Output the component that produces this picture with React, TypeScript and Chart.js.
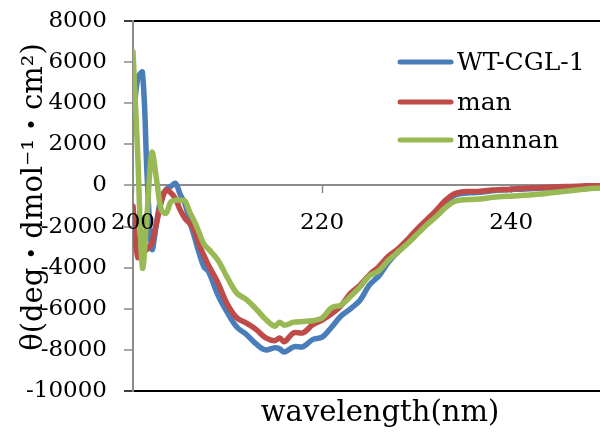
import React, { useEffect, useRef } from "react";
import { Chart, registerables } from "chart.js";

Chart.register(...registerables);

const wavelengths = [
  200, 200.5, 201, 201.5, 202, 202.5, 203, 203.5, 204, 204.5, 205, 205.5, 206, 206.5, 207, 207.5, 208,
  209, 210, 211, 212, 213, 214, 215, 215.5,
  216, 217, 218, 219, 220, 221, 222, 223, 224, 225, 226, 227, 228, 229, 230,
  231, 232, 233, 234, 235, 236, 237, 238, 239, 240, 241, 242, 243, 244, 245,
  246, 247, 248, 249, 250,
];

const wtCgl1 = [
  3000, 5200, 5500, 400, -3100, -1800, -560, -200, -50, 100, -450, -900, -1750, -2500, -3300, -3950, -4200,
  -5350, -6200, -6900, -7250, -7700, -8000, -7900, -7950,
  -8100, -7850, -7840, -7500, -7380, -6900, -6350, -6000, -5600, -4850, -4400, -3750, -3250, -2800, -2300,
  -1800, -1300, -850, -480, -380, -350, -320, -260, -220, -200, -180, -160, -140, -120, -100,
  -90, -70, -50, -40, -30,
];

const man = [
  -1000, -3500, -3300, -3100, -2800, -1800, -800, -220, -350, -650, -1200, -1600, -1850, -2200, -2900, -3400, -3900,
  -4750, -5800, -6450, -6700, -7000, -7400, -7550, -7420,
  -7600, -7170, -7170, -6780, -6550, -6250, -5850, -5250, -4850, -4350, -3950, -3450, -3100, -2650, -2150,
  -1700, -1250, -750, -400, -300, -300, -270, -220, -200, -180, -150, -130, -110, -90, -60,
  -50, -40, -20, -15, -10,
];

const mannan = [
  6500, 1500, -4000, -1300, 1600, 260, -1200, -1350, -800, -720, -720, -750, -1300, -1750, -2300, -2850, -3100,
  -3650, -4500, -5250, -5550, -6000, -6500, -6850, -6650,
  -6800, -6650, -6620, -6580, -6450, -5950, -5820, -5400, -4950, -4400, -4150, -3650, -3250, -2850, -2400,
  -1950, -1550, -1100, -780, -700, -680, -650, -580, -540, -520, -490, -460, -420, -370, -320,
  -270, -220, -170, -140, -120,
];

const seriesNames = ["WT-CGL-1", "man", "mannan"];
const seriesColors = ["#4A7EBB", "#BE4B48", "#98B954"];
const xTickValues = [200, 220, 240];
const yTitle = "θ(deg・dmol⁻¹・cm²)";
const xTitle = "wavelength(nm)";

const FONT = "'DejaVu Serif', 'Liberation Serif', 'Noto Sans CJK JP', serif";

const overlayPlugin = {
  id: "overlay",
  afterDraw(chart: any) {
    const ctx = chart.ctx;
    const area = chart.chartArea;
    const xs = chart.scales.x;
    const ys = chart.scales.y;

    // x tick labels drawn above the data lines
    ctx.save();
    ctx.fillStyle = "#000";
    ctx.font = `23px ${FONT}`;
    ctx.textAlign = "center";
    ctx.textBaseline = "middle";
    const yZero = ys.getPixelForValue(0);
    xTickValues.forEach((v) => {
      ctx.fillText(String(v), xs.getPixelForValue(v), yZero + 38);
    });
    ctx.restore();

    ctx.save();
    ctx.fillStyle = "#000";
    ctx.font = `29px ${FONT}`;
    ctx.textAlign = "center";
    ctx.textBaseline = "middle";
    ctx.translate(34, 197);
    ctx.rotate(-Math.PI / 2);
    ctx.fillText(yTitle, 0, 0);
    ctx.restore();

    ctx.save();
    ctx.fillStyle = "#000";
    ctx.font = `29px ${FONT}`;
    ctx.textAlign = "center";
    ctx.textBaseline = "middle";
    ctx.fillText(xTitle, 380, area.bottom + 22);
    ctx.restore();

    ctx.save();
    ctx.font = `25px ${FONT}`;
    ctx.textAlign = "left";
    ctx.textBaseline = "middle";
    const rows = [62, 102, 140];
    seriesNames.forEach((name, i) => {
      const y = rows[i];
      ctx.strokeStyle = seriesColors[i];
      ctx.lineWidth = 5;
      ctx.lineCap = "round";
      ctx.beginPath();
      ctx.moveTo(400, y);
      ctx.lineTo(451, y);
      ctx.stroke();
      ctx.fillStyle = "#000";
      ctx.fillText(name, 457, y + 1);
    });
    ctx.restore();
  },
};

const zeroPad = (scale: any) => {
  scale.paddingTop = 0;
  scale.paddingBottom = 0;
  scale.paddingLeft = 0;
  scale.paddingRight = 0;
};

export default function App() {
  const ref = useRef<HTMLCanvasElement>(null);

  useEffect(() => {
    if (!ref.current) return;
    const series = [wtCgl1, man, mannan];
    const orders = [2, 1, 0];
    const chart = new Chart(ref.current, {
      type: "line",
      data: {
        datasets: series.map((vals, i) => ({
          label: seriesNames[i],
          data: wavelengths.map((w, j) => ({ x: w, y: vals[j] })),
          borderColor: seriesColors[i],
          backgroundColor: seriesColors[i],
          borderWidth: 5.5,
          pointRadius: 0,
          tension: 0.35,
          borderCapStyle: "round",
          borderJoinStyle: "round",
          fill: false,
          order: orders[i],
        })),
      },
      options: {
        responsive: false,
        animation: false,
        events: [],
        layout: { padding: { top: 21, bottom: 41, left: 0, right: 0 } },
        plugins: {
          legend: { display: false },
          tooltip: { enabled: false },
          title: { display: false },
        },
        scales: {
          x: {
            type: "linear",
            min: 200,
            max: 249.4,
            position: { y: 0 } as any,
            afterBuildTicks: (scale: any) => {
              scale.ticks = xTickValues.map((v) => ({ value: v }));
            },
            afterFit: zeroPad,
            ticks: {
              display: false,
              autoSkip: false,
              maxRotation: 0,
              includeBounds: false,
            },
            grid: {
              drawOnChartArea: false,
              drawTicks: true,
              tickLength: 7,
              tickColor: "#888",
              tickWidth: 1.5,
            },
            border: { display: true, color: "#8c8c8c", width: 2 },
          },
          y: {
            type: "linear",
            min: -10000,
            max: 8000,
            afterFit: (scale: any) => {
              zeroPad(scale);
              scale.width = 133;
            },
            ticks: {
              stepSize: 2000,
              padding: 17,
              color: "#000",
              font: { family: FONT, size: 23 },
              callback: (v: any) => String(v),
            },
            grid: {
              drawOnChartArea: true,
              drawTicks: true,
              tickLength: 9,
              color: (c: any) =>
                c.tick && (c.tick.value === 8000 || c.tick.value === -10000) ? "#000" : "rgba(0,0,0,0)",
              lineWidth: 2,
              tickColor: (c: any) =>
                c.tick && (c.tick.value === 8000 || c.tick.value === -10000) ? "#000" : "#888",
              tickWidth: 1.5,
            },
            border: { display: true, color: "#8c8c8c", width: 2 },
          },
        },
      },
      plugins: [overlayPlugin],
    });
    return () => chart.destroy();
  }, []);

  return (
    <div style={{ position: "absolute", left: 0, top: 0, width: 600, height: 432, background: "#fff" }}>
      <canvas ref={ref} width={600} height={432} />
    </div>
  );
}
